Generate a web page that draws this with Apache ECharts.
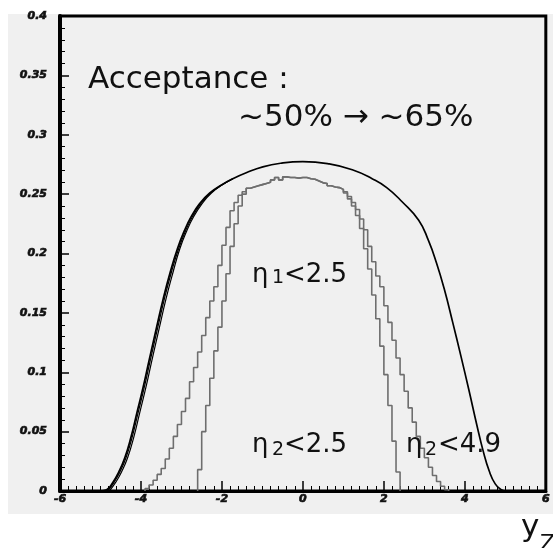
<!DOCTYPE html>
<html>
<head>
<meta charset="utf-8">
<script src="https://cdn.jsdelivr.net/npm/echarts@6/dist/echarts.min.js"></script>
<style>
  html, body { margin: 0; padding: 0; background: #ffffff; }
  #chart { width: 553px; height: 548px; }
</style>
</head>
<body>
<div id="chart"></div>
<script>
// Axis ranges and tick spacing
const xRange = [-6, 6];
const xMajorStep = 2;
const yRange = [0, 0.4];
const yMajorStep = 0.05;

// Histogram binning (bin width in rapidity units)
const BIN_WIDTH = 0.1;

// Shared top of both histograms, bins starting at -1.4 up to 1.0
const plateauStart = -1.4;
const plateauValues = [0.255, 0.256, 0.257, 0.258, 0.259, 0.260, 0.262, 0.264, 0.262, 0.2645,
  0.264, 0.264, 0.2635, 0.264, 0.264, 0.263, 0.2625, 0.261, 0.2595, 0.259,
  0.257, 0.256, 0.2555, 0.254];

// eta2 < 2.5 : rising edge (from -2.6) and falling edge (from 1.0)
const narrowLeftStart = -2.6;
const narrowLeft = [0.018, 0.050, 0.072, 0.095, 0.118, 0.138, 0.160, 0.183, 0.206, 0.225, 0.240, 0.250];
const narrowRight = [0.251, 0.246, 0.240, 0.232, 0.221, 0.204, 0.187, 0.165, 0.145, 0.122, 0.098, 0.072, 0.042, 0.016];

// eta2 < 4.9 : rising edge (from -3.9) and falling edge (from 1.0)
const wideLeftStart = -3.9;
const wideLeft = [0.002, 0.005, 0.009, 0.014, 0.019, 0.027, 0.036, 0.046, 0.056, 0.067,
  0.078, 0.092, 0.104, 0.117, 0.131, 0.146, 0.160, 0.172, 0.190, 0.207,
  0.222, 0.236, 0.243, 0.249, 0.252];
const wideRight = [0.252, 0.248, 0.243, 0.237, 0.229, 0.220, 0.206, 0.193, 0.181, 0.172,
  0.156, 0.142, 0.127, 0.112, 0.098, 0.084, 0.070, 0.058, 0.046, 0.036,
  0.028, 0.020, 0.013, 0.008, 0.004, 0.001];

// Full acceptance curve (x = yZ, y = fraction)
const acceptanceCurve = [[-6, 0], [-5.0, 0], [-4.85, 0.001], [-4.7, 0.007], [-4.55, 0.016], [-4.4, 0.028],
  [-4.25, 0.045], [-4.1, 0.066], [-3.95, 0.087], [-3.8, 0.110], [-3.62, 0.137], [-3.45, 0.162],
  [-3.28, 0.184], [-3.1, 0.204], [-2.93, 0.219], [-2.76, 0.231], [-2.55, 0.242], [-2.3, 0.251],
  [-2.0, 0.258], [-1.73, 0.263], [-1.4, 0.268], [-0.99, 0.273], [-0.55, 0.276], [0.0, 0.2773],
  [0.65, 0.2754], [1.22, 0.2705], [1.71, 0.263], [2.07, 0.2555], [2.45, 0.2436],
  [2.86, 0.228], [3.1, 0.211], [3.3, 0.192], [3.5, 0.169], [3.7, 0.142], [3.9, 0.114],
  [4.1, 0.085], [4.3, 0.055], [4.45, 0.034], [4.6, 0.017], [4.75, 0.006], [4.9, 0.001],
  [5.0, 0], [6, 0]];

// Two companion curves that separate from the main one on the rising edge
const companionCurveA = [[-4.82, 0], [-4.67, 0.007], [-4.52, 0.016], [-4.37, 0.028], [-4.22, 0.045],
  [-4.07, 0.066], [-3.92, 0.087], [-3.77, 0.110], [-3.59, 0.137], [-3.42, 0.162], [-3.25, 0.184],
  [-3.07, 0.204], [-2.9, 0.219], [-2.73, 0.231], [-2.52, 0.242], [-2.28, 0.251], [-1.99, 0.258],
  [-1.73, 0.263]];
const companionCurveB = [[-4.78, 0], [-4.63, 0.007], [-4.48, 0.016], [-4.33, 0.028], [-4.18, 0.045],
  [-4.03, 0.066], [-3.88, 0.087], [-3.73, 0.110], [-3.55, 0.137], [-3.38, 0.162], [-3.21, 0.184],
  [-3.04, 0.204], [-2.87, 0.219], [-2.70, 0.231], [-2.49, 0.242], [-2.26, 0.251], [-1.98, 0.258],
  [-1.73, 0.263]];

// Turn consecutive bin contents into a histogram outline
function histogramOutline(start, values) {
  const pts = [[start, 0]];
  values.forEach((v, i) => {
    const lo = +(start + i * BIN_WIDTH).toFixed(3);
    const hi = +(start + (i + 1) * BIN_WIDTH).toFixed(3);
    pts.push([lo, v], [hi, v]);
  });
  pts.push([+(start + values.length * BIN_WIDTH).toFixed(3), 0]);
  return pts;
}

const narrowHist = histogramOutline(narrowLeftStart, narrowLeft.concat(plateauValues, narrowRight));
const wideHist = histogramOutline(wideLeftStart, wideLeft.concat(plateauValues, wideRight));

const chart = echarts.init(document.getElementById('chart'), null, { renderer: 'canvas' });

const tickFont = {
  fontFamily: 'DejaVu Sans',
  fontWeight: 'bold',
  fontStyle: 'italic',
  fontSize: 11,
  color: '#111',
  textBorderColor: '#222',
  textBorderWidth: 0.7
};

function histSeries(data) {
  return {
    type: 'line', data: data, showSymbol: false, silent: true,
    lineStyle: { color: '#6e6e6e', width: 1.6 }, z: 3
  };
}
function curveSeries(data, width) {
  return {
    type: 'line', data: data, showSymbol: false, silent: true,
    smooth: 0.5,
    lineStyle: { color: '#000', width: width }, z: 4
  };
}
function label(text, left, top, size) {
  return { type: 'text', z: 10, left: left, top: top, silent: true,
    style: { text: text, font: size + 'px "DejaVu Sans"', fill: '#111' } };
}

chart.setOption({
  animation: false,
  backgroundColor: '#ffffff',
  grid: {
    left: 60, right: 5, top: 16, bottom: 57,
    show: true, backgroundColor: '#f0f0f0', borderColor: '#000', borderWidth: 3
  },
  xAxis: {
    type: 'value', min: xRange[0], max: xRange[1], interval: xMajorStep,
    axisLine: { onZero: false, lineStyle: { color: '#000', width: 3 } },
    axisTick: { inside: true, length: 10, lineStyle: { color: '#000', width: 1.5 } },
    minorTick: { show: true, splitNumber: 10, length: 5, lineStyle: { color: '#000', width: 1 } },
    splitLine: { show: false },
    axisLabel: Object.assign({ margin: 3 }, tickFont)
  },
  yAxis: {
    type: 'value', min: yRange[0], max: yRange[1], interval: yMajorStep,
    axisLine: { onZero: false, lineStyle: { color: '#000', width: 4 } },
    axisTick: { inside: true, length: 9, lineStyle: { color: '#000', width: 1.5 } },
    minorTick: { show: true, splitNumber: 5, length: 5, lineStyle: { color: '#000', width: 1 } },
    splitLine: { show: false },
    axisLabel: Object.assign({ margin: 13, formatter: v => String(+v.toFixed(2)) }, tickFont)
  },
  graphic: [
    { type: 'rect', z: -10, silent: true, shape: { x: 8, y: 14, width: 545, height: 500 }, style: { fill: '#f0f0f0' } },
    label('Acceptance :', 88, 64, 31),
    label('~50% \u2192 ~65%', 238, 102, 31),
    label('\u03b7', 252, 262, 26),
    label('1', 272, 269, 19),
    label('<2.5', 284, 262, 26),
    label('\u03b7', 252, 432, 26),
    label('2', 272, 441, 19),
    label('<2.5', 284, 432, 26),
    label('\u03b7', 406, 432, 26),
    label('2', 425, 441, 19),
    label('<4.9', 438, 432, 26),
    label('y', 521, 512, 31),
    label('Z', 540, 533, 22)
  ],
  series: [
    histSeries(wideHist),
    histSeries(narrowHist),
    curveSeries(acceptanceCurve, 1.7),
    curveSeries(companionCurveA, 1.2),
    curveSeries(companionCurveB, 1.2)
  ]
});
</script>
</body>
</html>
